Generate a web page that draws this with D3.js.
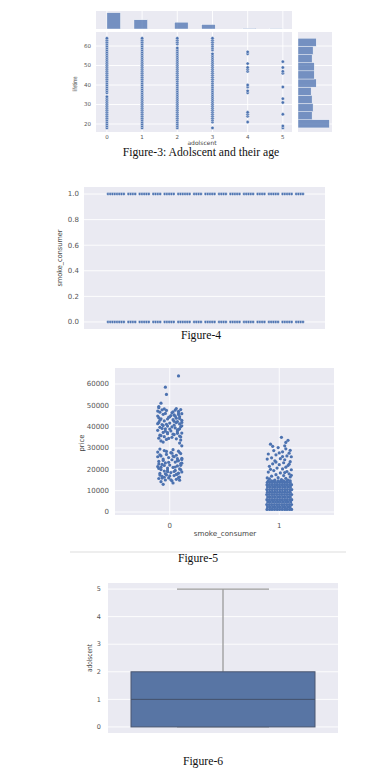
<!DOCTYPE html>
<html>
<head>
<meta charset="utf-8">
<script src="https://cdn.jsdelivr.net/npm/d3@7"></script>
<style>
  html, body { margin: 0; padding: 0; background: #fff; }
  svg { display: block; }
  .tick-label { font-family: "DejaVu Sans", sans-serif; fill: #555; }
  .axis-label { font-family: "DejaVu Sans", sans-serif; fill: #444; }
  .caption { font-family: "Liberation Serif", "Times New Roman", serif; fill: #111; }
</style>
</head>
<body>
<svg id="chart" width="382" height="774"></svg>
<script>
// ---- data ----

// figure 3: adolscent (children) vs lifetime (age)
const childCategories = [0, 1, 2, 3, 4, 5];
const childCounts = [574, 324, 240, 157, 25, 18];
// runs of ages present for each number of adolscents: [from, to]
const ageRunsByChild = [
    [[18, 34], [36, 64]],
    [[18, 64]],
    [[18, 59], [61, 64]],
    [[18, 18], [21, 56], [58, 64]],
    [[21, 21], [24, 26], [36, 37], [39, 40], [47, 49], [51, 51], [56, 57]],
    [[18, 19], [25, 25], [31, 31], [33, 33], [39, 39], [46, 47], [49, 49], [52, 52]]
];
// age histogram, 11 bins from 18 to 64 (bottom to top)
const ageBinCounts = [222, 100, 107, 100, 93, 129, 115, 115, 100, 107, 129];
const lifetimeTicks = [20, 30, 40, 50, 60];

// figure 4: smoke_consumer by row position
const consumerRows = [0, 1];
const consumerIndex = [0, 1, 2, 3, 4, 5, 6, 7, 9, 10, 11, 12, 14, 15, 16, 17, 18, 20, 21, 22, 23,
    25, 26, 27, 28, 29, 31, 32, 33, 34, 35, 36, 38, 39, 40, 41, 43, 44, 45, 46, 47, 49, 50, 51, 52,
    54, 55, 56, 57, 58, 60, 61, 62, 63, 64, 66, 67, 68, 69, 71, 72, 73, 74, 75, 77, 78, 79, 80, 81,
    83, 84, 85, 86];
const consumerTicks = [0, 0.2, 0.4, 0.6, 0.8, 1.0];

// figure 5: price (thousands) per smoke_consumer, x already jittered
const smokerPoints = [
    [0.08, 63.8], [-0.04, 58.5], [-0.03, 55.1], [-0.08, 51.0], [-0.10, 49.4],
    [-0.10, 48.9], [0.06, 48.5], [0.10, 48.0], [-0.03, 47.6], [0.08, 47.2], [-0.09, 46.8], [0.02, 46.5],
    [0.11, 46.1], [-0.06, 45.8], [0.04, 45.5], [-0.11, 45.0], [0.09, 44.7], [-0.01, 44.4], [0.06, 44.0],
    [-0.08, 43.7], [0.03, 43.3], [0.11, 43.0], [-0.05, 42.7], [0.07, 42.4], [-0.10, 42.0], [0.00, 41.7],
    [0.09, 41.3], [-0.07, 41.0], [0.04, 40.7], [-0.02, 40.3], [0.10, 40.0], [-0.09, 39.7], [0.05, 39.4],
    [-0.04, 39.0], [0.08, 38.7], [-0.11, 38.3], [0.01, 38.0], [0.07, 37.6], [-0.06, 37.3], [0.11, 37.0],
    [-0.02, 36.7], [0.04, 36.3], [-0.09, 36.0], [0.09, 35.6], [-0.05, 35.3], [0.02, 35.0], [-0.10, 34.6],
    [0.06, 34.3], [-0.03, 34.0], [0.10, 33.7], [-0.08, 33.3], [0.00, 38.9], [0.05, 44.9], [-0.07, 47.9],
    [0.03, 47.0], [-0.04, 46.2], [0.08, 45.7], [-0.10, 44.2], [0.11, 42.0], [-0.02, 43.6], [0.06, 41.9],
    [-0.06, 40.5], [0.02, 39.9], [-0.11, 41.4], [0.09, 39.0], [-0.04, 37.9], [0.07, 36.9], [-0.08, 35.8],
    [0.03, 36.5], [0.10, 35.2], [-0.01, 34.5], [0.05, 47.8], [-0.05, 48.3], [0.01, 45.2], [0.09, 43.8],
    [-0.09, 43.0], [0.04, 42.5], [-0.03, 41.1], [0.11, 40.4], [-0.07, 39.2], [0.07, 38.4], [-0.02, 37.2],
    [0.00, 44.6], [0.08, 46.4], [-0.11, 47.3], [0.11, 31.0], [0.09, 32.3], [-0.06, 32.8],
    [-0.09, 29.5], [0.03, 29.2], [-0.05, 28.8], [0.08, 28.5], [-0.11, 28.1], [0.01, 27.8], [0.10, 27.4],
    [-0.03, 27.0], [0.06, 26.6], [-0.08, 26.3], [0.04, 25.9], [-0.01, 25.5], [0.11, 25.2], [-0.06, 24.8],
    [0.02, 24.5], [0.08, 24.1], [-0.10, 23.7], [0.05, 23.4], [-0.04, 23.0], [0.10, 22.7], [-0.07, 22.3],
    [0.00, 22.0], [0.07, 21.6], [-0.11, 21.3], [0.03, 20.9], [-0.02, 20.6], [0.09, 20.2], [-0.08, 19.9],
    [0.05, 19.5], [-0.05, 19.2], [0.11, 18.8], [0.01, 18.5], [-0.09, 18.1], [0.07, 17.8], [-0.03, 17.4],
    [0.04, 17.1], [-0.07, 16.7], [0.09, 16.4], [-0.01, 16.0], [-0.10, 15.7], [0.06, 15.3], [-0.04, 15.0],
    [0.02, 14.6], [-0.08, 14.2], [0.03, 13.6], [-0.06, 13.0], [0.07, 23.9], [-0.05, 21.8], [0.10, 19.9],
    [-0.09, 17.3], [0.00, 16.9], [0.08, 18.2], [-0.02, 19.7], [0.05, 21.1], [-0.10, 20.4], [0.11, 22.9],
    [-0.06, 24.2], [0.03, 26.2], [-0.11, 25.9], [0.09, 27.9], [-0.03, 28.4], [0.06, 17.6], [-0.07, 15.9],
    [0.01, 15.1], [0.09, 14.9], [-0.04, 17.9], [0.04, 19.0], [-0.08, 21.0], [0.10, 21.9], [-0.01, 23.3],
    [0.07, 25.0], [-0.09, 26.8], [0.02, 27.6], [-0.05, 16.3], [0.08, 16.1], [-0.02, 18.9], [0.11, 24.6],
    [-0.10, 22.5]
];
const nonSmokerSparse = [
    [1.02, 35.0], [1.08, 33.6], [0.92, 31.8], [1.05, 31.0], [0.99, 30.2], [1.06, 29.6], [0.95, 28.8],
    [1.03, 28.2], [1.09, 27.6], [0.90, 27.2], [0.97, 26.8], [1.07, 26.3], [1.11, 25.9], [0.93, 25.4],
    [1.01, 25.0], [1.05, 24.5], [0.89, 24.8], [0.96, 24.0], [1.10, 23.6], [1.04, 23.1], [0.94, 22.6],
    [1.00, 22.2], [1.08, 21.8], [0.91, 21.4], [1.06, 21.0], [0.98, 20.6], [1.03, 20.2], [1.11, 19.8],
    [0.95, 19.4], [1.07, 19.0], [0.90, 18.7], [1.01, 18.3], [1.09, 17.9], [0.97, 17.5], [1.04, 17.1],
    [0.93, 16.8], [1.10, 16.4], [0.99, 16.1], [1.06, 15.8], [0.91, 15.5], [1.02, 15.2], [1.08, 15.0],
    [0.96, 14.9], [0.89, 16.0], [1.11, 17.2], [1.05, 18.5], [0.92, 20.0], [1.09, 22.4], [0.97, 23.4],
    [1.03, 26.0], [1.10, 28.9], [0.94, 30.8], [1.06, 32.6], [1.00, 27.7]
];
// the dense bulk of non consumers: [price, jittered x values]
const nonSmokerDense = [
    [1.2, [0.888, 0.912, 0.934, 0.957, 0.981, 1.003, 1.027, 1.05, 1.071, 1.094, 1.113]],
    [2.3, [0.893, 0.917, 0.94, 0.962, 0.985, 1.008, 1.031, 1.054, 1.077, 1.099]],
    [3.5, [0.886, 0.909, 0.931, 0.955, 0.978, 1.0, 1.024, 1.046, 1.069, 1.092, 1.112]],
    [4.7, [0.895, 0.919, 0.943, 0.966, 0.989, 1.011, 1.035, 1.058, 1.08, 1.104]],
    [5.8, [0.887, 0.91, 0.933, 0.956, 0.98, 1.003, 1.026, 1.049, 1.072, 1.095, 1.114]],
    [7.0, [0.894, 0.916, 0.939, 0.963, 0.986, 1.009, 1.032, 1.055, 1.078, 1.101]],
    [8.2, [0.886, 0.908, 0.932, 0.954, 0.977, 1.001, 1.023, 1.047, 1.07, 1.093, 1.113]],
    [9.3, [0.892, 0.915, 0.938, 0.961, 0.984, 1.007, 1.03, 1.053, 1.076, 1.1]],
    [10.5, [0.887, 0.911, 0.935, 0.958, 0.981, 1.004, 1.028, 1.051, 1.073, 1.096, 1.114]],
    [11.7, [0.893, 0.917, 0.94, 0.962, 0.985, 1.008, 1.031, 1.055, 1.078, 1.102]],
    [12.8, [0.888, 0.91, 0.933, 0.957, 0.979, 1.002, 1.026, 1.048, 1.071, 1.094, 1.112]],
    [13.9, [0.891, 0.914, 0.937, 0.96, 0.983, 1.006, 1.03, 1.052, 1.075, 1.099]],
    [14.6, [0.9, 0.93, 0.955, 0.99, 1.015, 1.04, 1.07, 1.1]]
];
const priceTicks = [0, 10, 20, 30, 40, 50, 60];

// figure 6: adolscent box (min, q1, median, q3, max)
const adolscentBox = [0, 0, 1, 2, 5];
const adolscentTicks = [0, 1, 2, 3, 4, 5];

// ---- drawing ----
const BG = "#eaeaf2", BLUE = "#4c72b0";
const svg = d3.select("#chart");

function panel(g, x0, y0, x1, y1) {
    g.append("rect")
        .attr("x", x0).attr("y", y0)
        .attr("width", x1 - x0).attr("height", y1 - y0)
        .attr("fill", BG);
}
function hGrid(g, ticks, y, x0, x1) {
    g.selectAll(null).data(ticks).enter().append("line")
        .attr("x1", x0).attr("x2", x1)
        .attr("y1", d => y(d)).attr("y2", d => y(d))
        .attr("stroke", "#fff").attr("stroke-width", 0.9);
}
function vGrid(g, ticks, x, y0, y1) {
    g.selectAll(null).data(ticks).enter().append("line")
        .attr("x1", d => x(d)).attr("x2", d => x(d))
        .attr("y1", y0).attr("y2", y1)
        .attr("stroke", "#fff").attr("stroke-width", 0.9);
}
function rotLabel(g, text, x, y, size, len) {
    g.append("text")
        .attr("class", "axis-label")
        .attr("transform", `translate(${x},${y}) rotate(-90)`)
        .attr("text-anchor", "middle")
        .attr("dy", "0.35em")
        .attr("font-size", size)
        .attr("textLength", len)
        .attr("lengthAdjust", "spacingAndGlyphs")
        .text(text);
}
function caption(text, x, y) {
    svg.append("text")
        .attr("class", "caption")
        .attr("x", x).attr("y", y)
        .attr("text-anchor", "middle")
        .attr("font-size", 11.7)
        .text(text);
}

// ---------- figure 3 ----------
const f3 = svg.append("g");
const x3 = d3.scaleLinear().domain([-0.31, 5.26]).range([96, 292]);
const y3 = d3.scaleLinear().domain([15.9, 67.2]).range([132, 32]);

// top marginal histogram (13 bins over 0..5)
const childBinW = 5 / 13;
const yTop = d3.scaleLinear().domain([0, 634]).range([29, 11]);
panel(f3, 96, 11, 292, 29);
vGrid(f3, childCategories, x3, 11, 29);
f3.selectAll(".topbar").data(childCategories).enter().append("rect")
    .attr("class", "topbar")
    .attr("x", d => x3(Math.min(12, Math.floor(d / childBinW + 1e-9)) * childBinW))
    .attr("width", x3(childBinW) - x3(0))
    .attr("y", (d, i) => yTop(childCounts[i]))
    .attr("height", (d, i) => yTop(0) - yTop(childCounts[i]))
    .attr("fill", BLUE).attr("fill-opacity", 0.75)
    .attr("stroke", "#fff").attr("stroke-width", 0.4);

// main scatter
panel(f3, 96, 32, 292, 132);
hGrid(f3, lifetimeTicks, y3, 96, 292);
vGrid(f3, childCategories, x3, 32, 132);
const pts3 = [];
ageRunsByChild.forEach((runs, c) => runs.forEach(([a, b]) => {
    d3.range(a, b + 1).forEach(age => pts3.push({ c, age }));
}));
f3.selectAll(".pt3").data(pts3).enter().append("circle")
    .attr("class", "pt3")
    .attr("cx", d => x3(d.c)).attr("cy", d => y3(d.age))
    .attr("r", 1.7)
    .attr("fill", BLUE).attr("stroke", "#fff").attr("stroke-width", 0.45);

f3.selectAll(".xt3").data(childCategories).enter().append("text")
    .attr("class", "tick-label")
    .attr("x", d => x3(d)).attr("y", 139)
    .attr("text-anchor", "middle").attr("font-size", 5.5)
    .text(d => d);
f3.selectAll(".yt3").data(lifetimeTicks).enter().append("text")
    .attr("class", "tick-label")
    .attr("x", 91).attr("y", d => y3(d)).attr("dy", "0.35em")
    .attr("text-anchor", "end").attr("font-size", 5.5)
    .text(d => d);
f3.append("text").attr("class", "axis-label")
    .attr("x", 202).attr("y", 144.5).attr("text-anchor", "middle")
    .attr("font-size", 6).text("adolscent");
rotLabel(f3, "lifetime", 75, 84, 6, 15);

// right marginal histogram
const ageBinW = (64 - 18) / ageBinCounts.length;
const xRight = d3.scaleLinear().domain([0, 241]).range([298, 332]);
panel(f3, 298, 32, 332, 132);
hGrid(f3, lifetimeTicks, y3, 298, 332);
f3.selectAll(".rbar").data(ageBinCounts).enter().append("rect")
    .attr("class", "rbar")
    .attr("x", xRight(0))
    .attr("y", (d, i) => y3(18 + (i + 1) * ageBinW))
    .attr("width", d => xRight(d) - xRight(0))
    .attr("height", y3(18) - y3(18 + ageBinW))
    .attr("fill", BLUE).attr("fill-opacity", 0.75)
    .attr("stroke", "#fff").attr("stroke-width", 0.4);

caption("Figure-3: Adolscent and their age", 201, 156);

// ---------- figure 4 ----------
const f4 = svg.append("g");
const x4 = d3.scaleLinear().domain([0, 86]).range([108, 303]);
const y4 = d3.scaleLinear().domain([-0.055, 1.055]).range([329, 187]);
panel(f4, 84, 187, 325, 329);
hGrid(f4, consumerTicks, y4, 84, 325);
const pts4 = consumerRows.flatMap(r => consumerIndex.map(i => ({ r, i })));
f4.selectAll(".pt4").data(pts4).enter().append("circle")
    .attr("cx", d => x4(d.i)).attr("cy", d => y4(d.r))
    .attr("r", 1.45)
    .attr("fill", BLUE).attr("stroke", "#fff").attr("stroke-width", 0.3);
f4.selectAll(".yt4").data(consumerTicks).enter().append("text")
    .attr("class", "tick-label")
    .attr("x", 79).attr("y", d => y4(d)).attr("dy", "0.35em")
    .attr("text-anchor", "end").attr("font-size", 7)
    .text(d3.format(".1f"));
rotLabel(f4, "smoke_consumer", 60, 258, 7, 57);
caption("Figure-4", 201, 339);

// ---------- figure 5 ----------
const f5 = svg.append("g");
const x5 = d3.scaleLinear().domain([-0.5, 1.5]).range([115, 334]);
const y5 = d3.scaleLinear().domain([-1.4, 67.5]).range([515, 368]);
panel(f5, 115, 368, 334, 515);
hGrid(f5, priceTicks, y5, 115, 334);
vGrid(f5, [0, 1], x5, 368, 515);
const pts5 = smokerPoints
    .concat(nonSmokerDense.flatMap(([p, xs]) => xs.map(x => [x, p])))
    .concat(nonSmokerSparse);
f5.selectAll(".pt5").data(pts5).enter().append("circle")
    .attr("cx", d => x5(d[0])).attr("cy", d => y5(d[1]))
    .attr("r", 1.6)
    .attr("fill", BLUE);
f5.selectAll(".yt5").data(priceTicks).enter().append("text")
    .attr("class", "tick-label")
    .attr("x", 109).attr("y", d => y5(d)).attr("dy", "0.35em")
    .attr("text-anchor", "end").attr("font-size", 7)
    .text(d => d * 1000);
f5.selectAll(".xt5").data([0, 1]).enter().append("text")
    .attr("class", "tick-label")
    .attr("x", d => x5(d)).attr("y", 528)
    .attr("text-anchor", "middle").attr("font-size", 7)
    .text(d => d);
f5.append("text").attr("class", "axis-label")
    .attr("x", 225).attr("y", 536).attr("text-anchor", "middle")
    .attr("font-size", 7.2).text("smoke_consumer");
rotLabel(f5, "price", 82, 443, 7, 17);
f5.append("line").attr("x1", 70).attr("x2", 346).attr("y1", 552).attr("y2", 552)
    .attr("stroke", "#eeeeee").attr("stroke-width", 2);
caption("Figure-5", 198, 562);

// ---------- figure 6 ----------
const f6 = svg.append("g");
const x6 = d3.scaleLinear().domain([-0.5, 0.5]).range([108, 338]);
const y6 = d3.scaleLinear().domain([-0.22, 5.22]).range([733, 583]);
const [bMin, bQ1, bMed, bQ3, bMax] = adolscentBox;
panel(f6, 108, 583, 338, 733);
hGrid(f6, adolscentTicks, y6, 108, 338);
// whisker + caps
f6.append("line")
    .attr("x1", x6(0)).attr("x2", x6(0))
    .attr("y1", y6(bQ3)).attr("y2", y6(bMax))
    .attr("stroke", "#9a9a9a").attr("stroke-width", 1.3);
f6.selectAll(".cap").data([bMin, bMax]).enter().append("line")
    .attr("x1", x6(-0.2)).attr("x2", x6(0.2))
    .attr("y1", d => y6(d)).attr("y2", d => y6(d))
    .attr("stroke", "#9a9a9a").attr("stroke-width", 1.3);
f6.append("rect")
    .attr("x", x6(-0.4)).attr("width", x6(0.4) - x6(-0.4))
    .attr("y", y6(bQ3)).attr("height", y6(bQ1) - y6(bQ3))
    .attr("fill", "#5875a4").attr("stroke", "#4a5670").attr("stroke-width", 1);
f6.append("line")
    .attr("x1", x6(-0.4)).attr("x2", x6(0.4))
    .attr("y1", y6(bMed)).attr("y2", y6(bMed))
    .attr("stroke", "#44506a").attr("stroke-width", 1);
f6.selectAll(".yt6").data(adolscentTicks).enter().append("text")
    .attr("class", "tick-label")
    .attr("x", 101).attr("y", d => y6(d)).attr("dy", "0.35em")
    .attr("text-anchor", "end").attr("font-size", 6.5)
    .text(d => d);
rotLabel(f6, "adolscent", 90, 658, 7, 28);
caption("Figure-6", 203, 765);
</script>
</body>
</html>
